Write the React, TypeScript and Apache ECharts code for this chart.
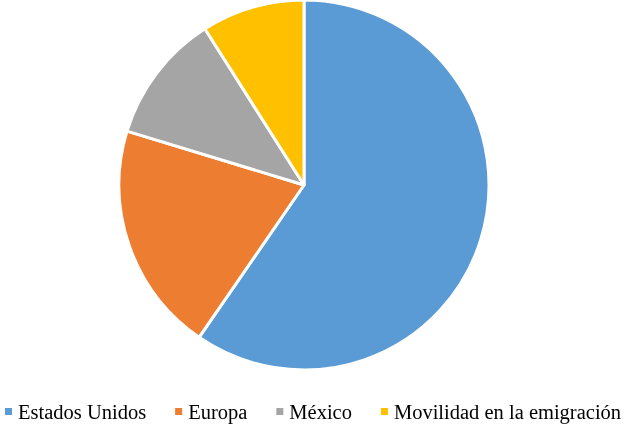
import * as echarts from 'echarts';
import React, { useEffect, useRef } from 'react';

const categories = ['Estados Unidos', 'Europa', 'México', 'Movilidad en la emigración'];
const values = [59.6, 20.1, 11.3, 9.0];
const colors = ['#5B9BD5', '#ED7D31', '#A5A5A5', '#FFC000'];

const App = () => {
  const chartRef = useRef<HTMLDivElement>(null);

  useEffect(() => {
    const chartInstance = echarts.init(chartRef.current, null, { renderer: 'svg' });

    const option = {
      animation: false,
      color: colors,
      legend: {
        top: 401,
        left: 3,
        width: 640,
        padding: 0,
        icon: 'rect',
        itemWidth: 9,
        itemHeight: 9,
        itemGap: 27,
        textStyle: {
          fontFamily: '"Liberation Serif", "Times New Roman", serif',
          fontSize: 20.5,
          color: '#000',
        },
        data: categories,
      },
      series: [
        {
          type: 'pie',
          center: [304, 185],
          radius: 185,
          startAngle: 90,
          clockwise: true,
          label: { show: false },
          labelLine: { show: false },
          itemStyle: { borderColor: '#fff', borderWidth: 3 },
          emphasis: { disabled: true },
          data: categories.map((name, i) => ({ name, value: values[i] })),
        },
      ],
    };

    chartInstance.setOption(option);
    return () => {
      chartInstance.dispose();
    };
  }, []);

  return (
    <div
      ref={chartRef}
      style={{ position: 'fixed', left: 0, top: 0, width: 626, height: 428 }}
    ></div>
  );
};

export default App;
